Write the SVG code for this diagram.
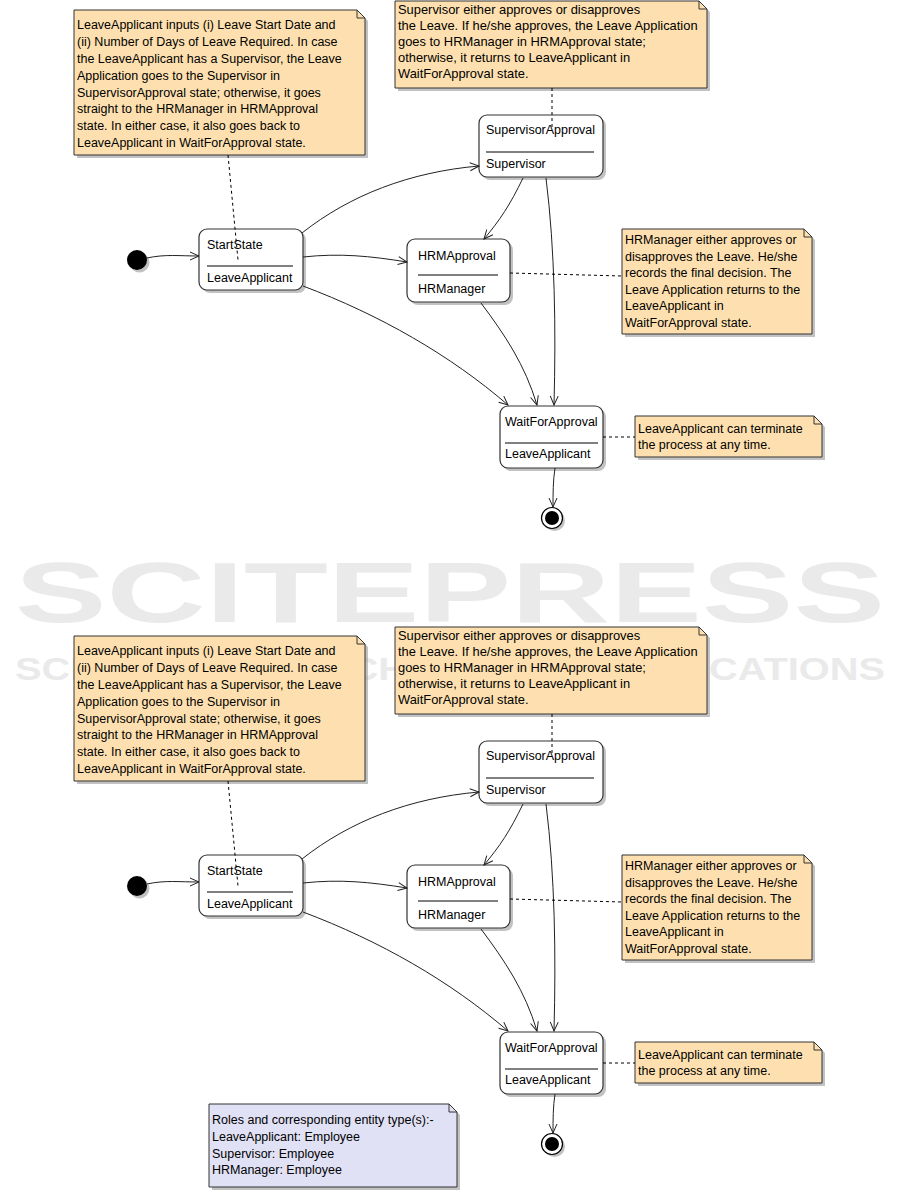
<svg xmlns="http://www.w3.org/2000/svg" width="901" height="1192" viewBox="0 0 901 1192">
<style>
text{font-family:"Liberation Sans",Arial,sans-serif;font-size:12.5px;fill:#000}
text.big{font-size:12.9px}
.node{fill:#fff;stroke:#333;stroke-width:1.2}
.shadow{fill:#9a9a9a;opacity:.6}
.note{fill:#FEE0B0;stroke:#333;stroke-width:1}
.roles{fill:#E1E1F5;stroke:#333;stroke-width:1}
.fold{fill:none;stroke:#333;stroke-width:1}
.sep{stroke:#000;stroke-width:1}
.edge{fill:none;stroke:#222;stroke-width:1;marker-end:url(#arr)}
.anchor{fill:none;stroke:#000;stroke-width:1;stroke-dasharray:3,3}
text.wm1{font-family:"Liberation Sans",Arial,sans-serif;font-weight:bold;font-size:86px;fill:#eaeaea}
text.wm2{font-family:"Liberation Sans",Arial,sans-serif;font-weight:bold;font-size:31px;fill:#eaeaea}
</style>
<defs>
<marker id="arr" markerUnits="userSpaceOnUse" markerWidth="12" markerHeight="12" refX="10" refY="5" orient="auto"><path d="M1,1 L10,5 L1,9" fill="none" stroke="#222" stroke-width="1"/></marker>
</defs>
<rect width="901" height="1192" fill="#fff"/>

<g id="watermark">
<text class="wm1" x="15" y="622" textLength="870" lengthAdjust="spacingAndGlyphs">SCITEPRESS</text>
<text class="wm2" x="15" y="680" textLength="870" lengthAdjust="spacingAndGlyphs">SCIENCE AND TECHNOLOGY PUBLICATIONS</text>
</g>

<!-- ===== TOP DIAGRAM ===== -->
<g id="note-start-1">
<path class="shadow" d="M77,13 H360 L368,21 V158 H77 Z"/>
<path class="note" d="M74,10 H357 L365,18 V155 H74 Z"/>
<path class="fold" d="M357,10 V18 H365"/>
<text x="77" y="29">LeaveApplicant inputs (i) Leave Start Date and</text>
<text x="77" y="46">(ii) Number of Days of Leave Required. In case</text>
<text x="77" y="63">the LeaveApplicant has a Supervisor, the Leave</text>
<text x="77" y="80">Application goes to the Supervisor in</text>
<text x="77" y="97">SupervisorApproval state; otherwise, it goes</text>
<text x="77" y="113">straight to the HRManager in HRMApproval</text>
<text x="77" y="130">state. In either case, it also goes back to</text>
<text x="77" y="147">LeaveApplicant in WaitForApproval state.</text>
</g>
<g id="note-supervisor-1">
<path class="shadow" d="M398,4 H702 L710,12 V91 H398 Z"/>
<path class="note" d="M395,1 H699 L707,9 V88 H395 Z"/>
<path class="fold" d="M699,1 V9 H707"/>
<text class="big" x="398" y="14">Supervisor either approves or disapproves</text>
<text class="big" x="398" y="30">the Leave. If he/she approves, the Leave Application</text>
<text class="big" x="398" y="46">goes to HRManager in HRMApproval state;</text>
<text class="big" x="398" y="62">otherwise, it returns to LeaveApplicant in</text>
<text class="big" x="398" y="78">WaitForApproval state.</text>
</g>
<g id="note-hrm-1">
<path class="shadow" d="M625,232 H807 L815,240 V337 H625 Z"/>
<path class="note" d="M622,229 H804 L812,237 V334 H622 Z"/>
<path class="fold" d="M804,229 V237 H812"/>
<text x="625" y="244">HRManager either approves or</text>
<text x="625" y="261">disapproves the Leave. He/she</text>
<text x="625" y="277">records the final decision. The</text>
<text x="625" y="294">Leave Application returns to the</text>
<text x="625" y="310">LeaveApplicant in</text>
<text x="625" y="327">WaitForApproval state.</text>
</g>
<g id="note-wait-1">
<path class="shadow" d="M638,419 H817 L825,427 V460 H638 Z"/>
<path class="note" d="M635,416 H814 L822,424 V457 H635 Z"/>
<path class="fold" d="M814,416 V424 H822"/>
<text x="638" y="433">LeaveApplicant can terminate</text>
<text x="638" y="449">the process at any time.</text>
</g>

<g id="initial-1">
<circle cx="139.5" cy="262.5" r="10" class="shadow"/>
<circle cx="137" cy="260" r="10" fill="#000"/>
</g>
<g id="startstate-1">
<rect class="shadow" x="202" y="232" width="104" height="61" rx="8"/>
<rect class="node" x="199" y="229" width="104" height="61" rx="8"/>
<line class="sep" x1="207" y1="266" x2="293" y2="266"/>
<text x="207" y="248.5">StartState</text>
<text x="207" y="281.5">LeaveApplicant</text>
</g>
<g id="supervisorapproval-1">
<rect class="shadow" x="482" y="118" width="124" height="62" rx="8"/>
<rect class="node" x="479" y="115" width="124" height="62" rx="8"/>
<line class="sep" x1="486" y1="152" x2="594" y2="152"/>
<text x="486" y="133.5">SupervisorApproval</text>
<text x="486" y="167.5">Supervisor</text>
</g>
<g id="hrmapproval-1">
<rect class="shadow" x="410" y="242" width="103" height="63" rx="8"/>
<rect class="node" x="407" y="239" width="103" height="63" rx="8"/>
<line class="sep" x1="418" y1="275" x2="498" y2="275"/>
<text x="418" y="259.5">HRMApproval</text>
<text x="418" y="292.5">HRManager</text>
</g>
<g id="waitforapproval-1">
<rect class="shadow" x="503" y="409" width="103" height="62" rx="8"/>
<rect class="node" x="500" y="406" width="103" height="62" rx="8"/>
<line class="sep" x1="505" y1="443" x2="598" y2="443"/>
<text x="505" y="425.5">WaitForApproval</text>
<text x="505" y="457.5">LeaveApplicant</text>
</g>
<g id="final-1">
<circle cx="554.5" cy="520.5" r="10.5" class="shadow"/>
<circle cx="552" cy="518" r="10.5" fill="#fff" stroke="#000" stroke-width="1.2"/>
<circle cx="552" cy="518" r="7" fill="#000"/>
</g>

<g id="connectors-1">
<path class="edge" d="M147,258 C165,254 180,256 199,256"/>
<path class="edge" d="M302,233 C350,195 410,172 479,166"/>
<path class="edge" d="M303,257 C340,253 370,256 407,262"/>
<path class="edge" d="M303,286 C380,315 450,355 508,405"/>
<path class="edge" d="M523,178 C510,205 500,220 484,239"/>
<path class="edge" d="M546,178 C555,250 556,330 554,405"/>
<path class="edge" d="M481,303 C505,335 525,365 537,405"/>
<path class="edge" d="M555,468 C553,480 553,495 553,507"/>
<path class="anchor" d="M228,155 L238,260"/>
<path class="anchor" d="M552,88 L552,128"/>
<path class="anchor" d="M510,273 L622,276"/>
<path class="anchor" d="M603,437 L635,437"/>
</g>

<!-- ===== BOTTOM DIAGRAM (offset 626) ===== -->
<g id="note-start-2">
<path class="shadow" d="M77,639 H360 L368,647 V784 H77 Z"/>
<path class="note" d="M74,636 H357 L365,644 V781 H74 Z"/>
<path class="fold" d="M357,636 V644 H365"/>
<text x="77" y="655">LeaveApplicant inputs (i) Leave Start Date and</text>
<text x="77" y="672">(ii) Number of Days of Leave Required. In case</text>
<text x="77" y="689">the LeaveApplicant has a Supervisor, the Leave</text>
<text x="77" y="706">Application goes to the Supervisor in</text>
<text x="77" y="723">SupervisorApproval state; otherwise, it goes</text>
<text x="77" y="739">straight to the HRManager in HRMApproval</text>
<text x="77" y="756">state. In either case, it also goes back to</text>
<text x="77" y="773">LeaveApplicant in WaitForApproval state.</text>
</g>
<g id="note-supervisor-2">
<path class="shadow" d="M398,630 H702 L710,638 V717 H398 Z"/>
<path class="note" d="M395,627 H699 L707,635 V714 H395 Z"/>
<path class="fold" d="M699,627 V635 H707"/>
<text class="big" x="398" y="640">Supervisor either approves or disapproves</text>
<text class="big" x="398" y="656">the Leave. If he/she approves, the Leave Application</text>
<text class="big" x="398" y="672">goes to HRManager in HRMApproval state;</text>
<text class="big" x="398" y="688">otherwise, it returns to LeaveApplicant in</text>
<text class="big" x="398" y="704">WaitForApproval state.</text>
</g>
<g id="note-hrm-2">
<path class="shadow" d="M625,858 H807 L815,866 V963 H625 Z"/>
<path class="note" d="M622,855 H804 L812,863 V960 H622 Z"/>
<path class="fold" d="M804,855 V863 H812"/>
<text x="625" y="870">HRManager either approves or</text>
<text x="625" y="887">disapproves the Leave. He/she</text>
<text x="625" y="903">records the final decision. The</text>
<text x="625" y="920">Leave Application returns to the</text>
<text x="625" y="936">LeaveApplicant in</text>
<text x="625" y="953">WaitForApproval state.</text>
</g>
<g id="note-wait-2">
<path class="shadow" d="M638,1045 H817 L825,1053 V1086 H638 Z"/>
<path class="note" d="M635,1042 H814 L822,1050 V1083 H635 Z"/>
<path class="fold" d="M814,1042 V1050 H822"/>
<text x="638" y="1059">LeaveApplicant can terminate</text>
<text x="638" y="1075">the process at any time.</text>
</g>
<g id="note-roles">
<path class="shadow" d="M212,1107 H452 L460,1115 V1190 H212 Z"/>
<path class="roles" d="M209,1104 H449 L457,1112 V1187 H209 Z"/>
<path class="fold" d="M449,1104 V1112 H457"/>
<text x="212" y="1124">Roles and corresponding entity type(s):-</text>
<text x="212" y="1141">LeaveApplicant: Employee</text>
<text x="212" y="1158">Supervisor: Employee</text>
<text x="212" y="1174">HRManager: Employee</text>
</g>

<g id="initial-2">
<circle cx="139.5" cy="888.5" r="10" class="shadow"/>
<circle cx="137" cy="886" r="10" fill="#000"/>
</g>
<g id="startstate-2">
<rect class="shadow" x="202" y="858" width="104" height="61" rx="8"/>
<rect class="node" x="199" y="855" width="104" height="61" rx="8"/>
<line class="sep" x1="207" y1="892" x2="293" y2="892"/>
<text x="207" y="874.5">StartState</text>
<text x="207" y="907.5">LeaveApplicant</text>
</g>
<g id="supervisorapproval-2">
<rect class="shadow" x="482" y="744" width="124" height="62" rx="8"/>
<rect class="node" x="479" y="741" width="124" height="62" rx="8"/>
<line class="sep" x1="486" y1="778" x2="594" y2="778"/>
<text x="486" y="759.5">SupervisorApproval</text>
<text x="486" y="793.5">Supervisor</text>
</g>
<g id="hrmapproval-2">
<rect class="shadow" x="410" y="868" width="103" height="63" rx="8"/>
<rect class="node" x="407" y="865" width="103" height="63" rx="8"/>
<line class="sep" x1="418" y1="901" x2="498" y2="901"/>
<text x="418" y="885.5">HRMApproval</text>
<text x="418" y="918.5">HRManager</text>
</g>
<g id="waitforapproval-2">
<rect class="shadow" x="503" y="1035" width="103" height="62" rx="8"/>
<rect class="node" x="500" y="1032" width="103" height="62" rx="8"/>
<line class="sep" x1="505" y1="1069" x2="598" y2="1069"/>
<text x="505" y="1051.5">WaitForApproval</text>
<text x="505" y="1083.5">LeaveApplicant</text>
</g>
<g id="final-2">
<circle cx="554.5" cy="1146.5" r="10.5" class="shadow"/>
<circle cx="552" cy="1144" r="10.5" fill="#fff" stroke="#000" stroke-width="1.2"/>
<circle cx="552" cy="1144" r="7" fill="#000"/>
</g>

<g id="connectors-2">
<path class="edge" d="M147,884 C165,880 180,882 199,882"/>
<path class="edge" d="M302,859 C350,821 410,798 479,792"/>
<path class="edge" d="M303,883 C340,879 370,882 407,888"/>
<path class="edge" d="M303,912 C380,941 450,981 508,1031"/>
<path class="edge" d="M523,804 C510,831 500,846 484,865"/>
<path class="edge" d="M546,804 C555,876 556,956 554,1031"/>
<path class="edge" d="M481,929 C505,961 525,991 537,1031"/>
<path class="edge" d="M555,1094 C553,1106 553,1121 553,1133"/>
<path class="anchor" d="M228,781 L238,886"/>
<path class="anchor" d="M552,714 L552,754"/>
<path class="anchor" d="M510,899 L622,902"/>
<path class="anchor" d="M603,1063 L635,1063"/>
</g>
</svg>
